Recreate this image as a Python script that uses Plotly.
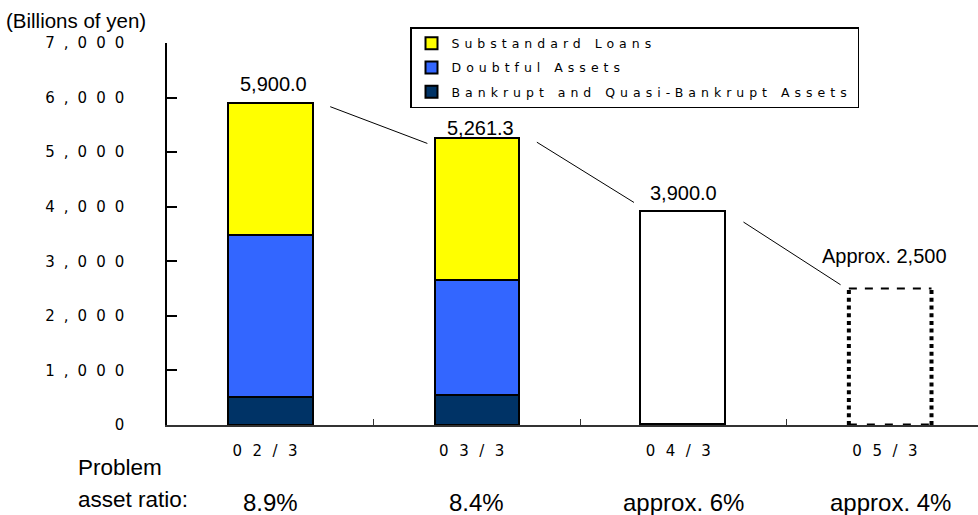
import plotly.graph_objects as go

# Fiscal-year ends (Japanese fiscal years end in March)
periods = ["02/3", "03/3", "04/3", "05/3"]

# Problem assets by category, billions of yen (actual results)
bankrupt = [505, 541]
doubtful = [2977, 2108]
substandard = [2418, 2612.3]

# Targets for later years (totals only)
projected = [3900, 2500]

totals = [5900.0, 5261.3, 3900.0, 2500.0]
total_labels = ["5,900.0", "5,261.3", "3,900.0", "Approx. 2,500"]
ratios = ["8.9%", "8.4%", "approx. 6%", "approx. 4%"]
y_ticks = [0, 1000, 2000, 3000, 4000, 5000, 6000, 7000]

FONT = "Liberation Sans, Arial, sans-serif"
WIDE = "DejaVu Sans, Verdana, sans-serif"
BAR_W = 0.41

xs = list(range(len(periods)))


def spaced(text, px):
    return f'<span style="letter-spacing:{px}px">{text}</span>'


fig = go.Figure()

# (name, values, colour, legend rank) — stacked bottom to top
series = [
    ("Bankrupt and Quasi-Bankrupt Assets", bankrupt, "#003366", 3),
    ("Doubtful Assets", doubtful, "#3366FF", 2),
    ("Substandard Loans", substandard, "#FFFF00", 1),
]
for name, vals, color, rank in series:
    fig.add_trace(go.Bar(
        x=xs[:len(vals)], y=vals, name=spaced(name, 5.0), legendgroup=name,
        legendrank=rank, width=BAR_W,
        marker=dict(color=color, line=dict(color="black", width=2)),
    ))

# Projected totals: solid outline for 04/3, dotted frame drawn separately for 05/3
fig.add_trace(go.Bar(
    x=xs[2:], y=projected, width=BAR_W, showlegend=False,
    marker=dict(color="white", line=dict(color="black", width=[1.6, 0])),
))

# Dotted frame for the 05/3 target
xc = xs[3]
x_l, x_r = xc - BAR_W / 2 + 0.005, xc + BAR_W / 2 - 0.005
top = projected[1]
for xv in (x_l, x_r):
    fig.add_trace(go.Scatter(
        x=[xv, xv], y=[0, top], mode="lines", showlegend=False, hoverinfo="skip",
        line=dict(color="black", width=4, dash="4px,3.7px"),
    ))
fig.add_trace(go.Scatter(
    x=[x_l, x_r], y=[top, top], mode="lines", showlegend=False, hoverinfo="skip",
    line=dict(color="black", width=2, dash="8px,8px"),
))
fig.add_trace(go.Scatter(
    x=[x_l, x_r], y=[0, 0], mode="lines", showlegend=False, hoverinfo="skip",
    line=dict(color="black", width=3, dash="8px,10px"),
))

# Thin leader lines between consecutive totals
start_dy = [-67, -79, -181]
end_dy = [-102, 178, 70]
for i in range(len(totals) - 1):
    fig.add_trace(go.Scatter(
        x=[xs[i] + 0.29, xs[i + 1] - 0.24],
        y=[totals[i] + start_dy[i], totals[i + 1] + end_dy[i]],
        mode="lines", showlegend=False, hoverinfo="skip",
        line=dict(color="black", width=1),
    ))

# Total labels above each bar
label_dx = [3, 4, 0, -6]
label_dy = [6, -3, 6, 20]
for i, txt in enumerate(total_labels):
    fig.add_annotation(
        x=xs[i], y=totals[i], text=txt, showarrow=False,
        xanchor="center", yanchor="bottom", xshift=label_dx[i], yshift=label_dy[i],
        font=dict(family=FONT, size=20, color="black"),
    )

# Problem asset ratio row under the axis
fig.add_annotation(
    xref="paper", yref="paper", x=-0.112, y=-0.112, text="Problem",
    showarrow=False, xanchor="left", yanchor="middle",
    font=dict(family=FONT, size=22.5, color="black"),
)
fig.add_annotation(
    xref="paper", yref="paper", x=-0.112, y=-0.196, text="asset ratio:",
    showarrow=False, xanchor="left", yanchor="middle",
    font=dict(family=FONT, size=22.5, color="black"),
)
for i, r in enumerate(ratios):
    fig.add_annotation(
        x=xs[i], yref="paper", y=-0.202, text=r, showarrow=False,
        xanchor="center", yanchor="middle",
        font=dict(family=FONT, size=24, color="black"),
    )

fig.add_annotation(
    xref="paper", yref="paper", x=-0.201, y=1.058,
    text="(Billions of yen)", showarrow=False, xanchor="left", yanchor="middle",
    font=dict(family=FONT, size=20.5, color="black"),
)

fig.update_layout(
    width=978, height=515,
    margin=dict(l=167, r=0, t=43, b=90, autoexpand=False),
    paper_bgcolor="white", plot_bgcolor="white",
    barmode="stack", bargap=0,
    font=dict(family=FONT, color="black"),
    showlegend=True,
    legend=dict(
        xref="container", yref="container",
        x=410 / 978, y=1 - 27 / 515, xanchor="left", yanchor="top",
        bgcolor="white", bordercolor="black", borderwidth=1.5,
        font=dict(family=WIDE, size=12.5, color="black"),
        traceorder="grouped", tracegroupgap=5,
        itemclick=False, itemdoubleclick=False,
    ),
    xaxis=dict(
        range=[-0.5, 3.425], tickmode="array", tickvals=xs,
        ticktext=[spaced(p, 10.5) for p in periods],
        ticks="", showgrid=False, zeroline=False,
        showline=True, linecolor="#333333", linewidth=1.5,
        tickfont=dict(family=WIDE, size=15, color="black"),
        ticklabelstandoff=11,
        minor=dict(tickmode="array", tickvals=[0.5, 1.5, 2.5], ticks="inside",
                   ticklen=6, tickcolor="#333333", tickwidth=1.2, showgrid=False),
        fixedrange=True,
    ),
    yaxis=dict(
        range=[0, 7000], tickmode="array", tickvals=y_ticks,
        ticktext=[spaced(f"{v:,}", 9) for v in y_ticks],
        ticks="inside", ticklen=10, tickcolor="black", tickwidth=1.5,
        showgrid=False, zeroline=False,
        showline=True, linecolor="black", linewidth=1.5,
        tickfont=dict(family=WIDE, size=15, color="black"),
        ticklabelstandoff=29,
        fixedrange=True,
    ),
)

fig.write_html("out.html")
